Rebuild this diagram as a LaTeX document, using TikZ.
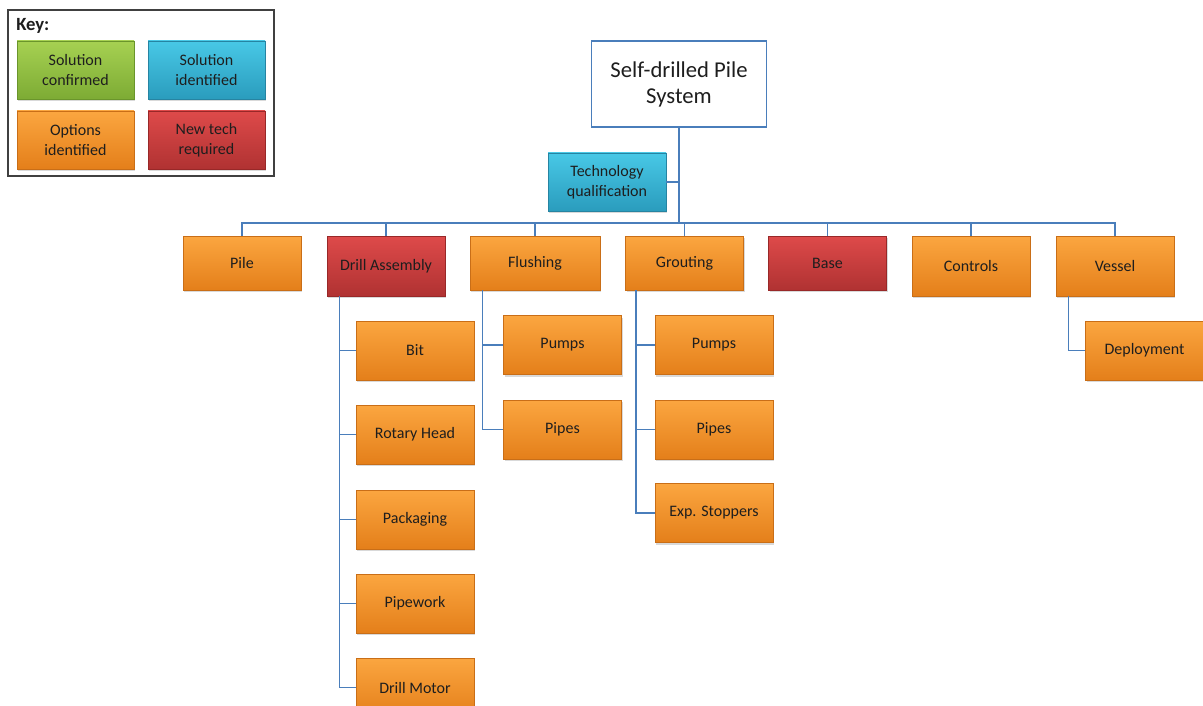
\documentclass[tikz,border=0pt]{standalone}
\usepackage{fontspec}
\setmainfont{Carlito}
\usepackage{xcolor}
\usetikzlibrary{positioning}
\usetikzlibrary{shadows}
\definecolor{corangetop}{HTML}{FBA640}
\definecolor{corangebot}{HTML}{E47F1A}
\definecolor{corangeline}{HTML}{C96E17}
\definecolor{credtop}{HTML}{DE4A4A}
\definecolor{credbot}{HTML}{B03232}
\definecolor{credline}{HTML}{982828}
\definecolor{cgreentop}{HTML}{A6D152}
\definecolor{cgreenbot}{HTML}{7DAB34}
\definecolor{cgreenline}{HTML}{6A952B}
\definecolor{cbluetop}{HTML}{48C8E6}
\definecolor{cbluebot}{HTML}{2A9CBD}
\definecolor{cblueline}{HTML}{2684A2}
\definecolor{cline}{HTML}{4A7EBB}
\definecolor{ctext}{HTML}{1E1E1E}

\begin{document}
\begin{tikzpicture}[x=0.75pt, y=-0.75pt]
    \tikzset{
        box/.style={rectangle, draw, line width=0.6pt, align=center, text=ctext, font=\fontsize{12}{15}\selectfont, minimum width=88.5pt, minimum height=40.5pt, inner sep=2pt, drop shadow={shadow xshift=1pt, shadow yshift=-1.5pt, opacity=0.3}},
        tall/.style={minimum height=45pt},
        sub/.style={minimum height=44.25pt},
        options/.style={box, top color=corangetop, bottom color=corangebot, draw=corangeline},
        newtech/.style={box, top color=credtop, bottom color=credbot, draw=credline},
        identified/.style={box, top color=cbluetop, bottom color=cbluebot, draw=cblueline},
        confirmed/.style={box, top color=cgreentop, bottom color=cgreenbot, draw=cgreenline},
        keybox/.style={minimum width=87.75pt, minimum height=43.5pt},
        system/.style={rectangle, draw=cline, line width=1pt, fill=white, align=center, text=ctext, font=\fontsize{17}{19.5}\selectfont, minimum width=131.25pt, minimum height=64.5pt},
        keyframe/.style={draw=black!75, line width=0.8pt},
        flow/.style={draw=cline, line width=1.3pt}
    }

    \useasboundingbox (0,0) rectangle (1203,706);

    \draw[keyframe] (8,10) rectangle (274,176);
    \node[anchor=west, inner sep=0pt, text=ctext, font=\fontsize{14}{16}\selectfont\bfseries] (key_label) at (16,26) {Key:};
    \node[confirmed, keybox] (k_confirmed) at (75.5,70) {Solution\\confirmed};
    \node[identified, keybox] (k_identified) at (206.5,70) {Solution\\identified};
    \node[options, keybox] (k_options) at (75.5,140) {Options\\identified};
    \node[newtech, keybox] (k_newtech) at (206.5,140) {New tech\\required};

    \node[system] (system) at (679,84) {Self-drilled Pile\\System};
    \node[identified, keybox, minimum width=88.5pt] (tech_qual) at (607,182) {Technology\\qualification};

    \node[options] (pile) at (242,263) {Pile};
    \node[newtech, tall] (drill_asm) at (386,266) {Drill Assembly};
    \node[options, minimum width=97.5pt] (flushing) at (535,263) {Flushing};
    \node[options] (grouting) at (684.5,263) {Grouting};
    \node[newtech] (base) at (827.5,263) {Base};
    \node[options, tall] (controls) at (971,266) {Controls};
    \node[options, tall] (vessel) at (1115,266) {Vessel};

    \node[options, sub] (bit) at (415,350.5) {Bit};
    \node[options, sub] (rotary_head) at (415,434.5) {Rotary Head};
    \node[options, sub] (packaging) at (415,519.5) {Packaging};
    \node[options, sub] (pipework) at (415,603.5) {Pipework};
    \node[options, sub] (drill_motor) at (415,687.5) {Drill Motor};

    \node[options, sub] (fl_pumps) at (562.5,345) {Pumps};
    \node[options, sub] (fl_pipes) at (562.5,429.5) {Pipes};

    \node[options, sub] (gr_pumps) at (714,345) {Pumps};
    \node[options, sub] (gr_pipes) at (714,429.5) {Pipes};
    \node[options, sub] (gr_stoppers) at (714,513) {Exp. Stoppers};

    \node[options, sub] (deployment) at (1144.5,350.5) {Deployment};

    \coordinate (bus) at (679,223);
    \path[flow] (system.south) -- (bus);
    \path[flow] (tech_qual.east) -- (tech_qual.east -| bus);
    \foreach \n in {pile, drill_asm, flushing, grouting, base, controls, vessel}
        \path[flow] (\n.north) |- (bus);

    \coordinate (drill_spine) at ([xshift=9.75pt]drill_asm.south west);
    \coordinate (fl_spine) at ([xshift=9.75pt]flushing.south west);
    \coordinate (gr_spine) at ([xshift=8.25pt]grouting.south west);
    \coordinate (ve_spine) at ([xshift=9.75pt]vessel.south west);
    \foreach \n in {bit, rotary_head, packaging, pipework, drill_motor}
        \path[flow] (drill_spine) |- (\n.west);
    \foreach \n in {fl_pumps, fl_pipes}
        \path[flow] (fl_spine) |- (\n.west);
    \foreach \n in {gr_pumps, gr_pipes, gr_stoppers}
        \path[flow] (gr_spine) |- (\n.west);
    \path[flow] (ve_spine) |- (deployment.west);
\end{tikzpicture}
\end{document}
